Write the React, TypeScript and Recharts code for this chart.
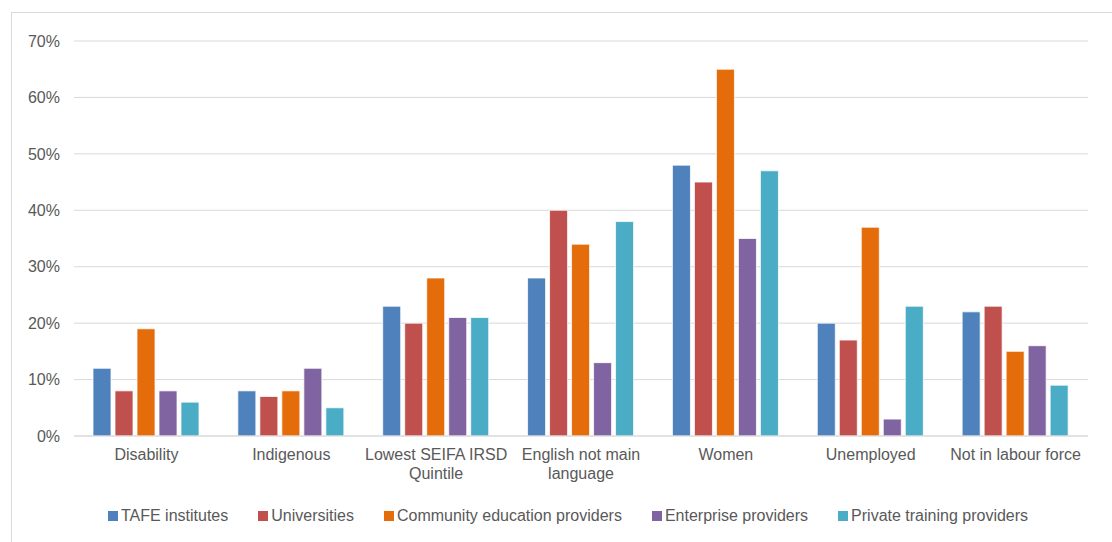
import React from 'react';
import { BarChart, Bar, XAxis, YAxis, CartesianGrid, Legend } from 'recharts';

const categories = [
  'Disability',
  'Indigenous',
  'Lowest SEIFA IRSD\nQuintile',
  'English not main\nlanguage',
  'Women',
  'Unemployed',
  'Not in labour force',
];

const tafe = [12, 8, 23, 28, 48, 20, 22];
const universities = [8, 7, 20, 40, 45, 17, 23];
const community = [19, 8, 28, 34, 65, 37, 15];
const enterprise = [8, 12, 21, 13, 35, 3, 16];
const privateTraining = [6, 5, 21, 38, 47, 23, 9];

const yTicks = [0, 10, 20, 30, 40, 50, 60, 70];

const series = [
  { key: 'tafe', name: 'TAFE institutes', color: '#4F81BD', values: tafe },
  { key: 'universities', name: 'Universities', color: '#C0504D', values: universities },
  { key: 'community', name: 'Community education providers', color: '#E46C0A', values: community },
  { key: 'enterprise', name: 'Enterprise providers', color: '#8064A2', values: enterprise },
  { key: 'private', name: 'Private training providers', color: '#4BACC6', values: privateTraining },
];

const data = categories.map((category, i) => {
  const row: Record<string, string | number> = { category };
  series.forEach((s) => {
    row[s.key] = s.values[i];
  });
  return row;
});

const FONT = '"Liberation Sans", Arial, sans-serif';
const TEXT = '#595959';

const CategoryTick = (props: any) => {
  const { x, y, payload } = props;
  const lines = String(payload.value).split('\n');
  return (
    <text x={x} y={y + 16} textAnchor="middle" fill={TEXT} fontSize={16} fontFamily={FONT}>
      {lines.map((line, i) => (
        <tspan key={i} x={x} dy={i === 0 ? 0 : 18.5}>
          {line}
        </tspan>
      ))}
    </text>
  );
};

const LegendContent = () => (
  <div
    style={{
      display: 'flex',
      justifyContent: 'center',
      gap: 30,
      fontFamily: FONT,
      fontSize: 16,
      color: TEXT,
    }}
  >
    {series.map((s) => (
      <div key={s.key} style={{ display: 'flex', alignItems: 'center' }}>
        <span style={{ width: 10, height: 10, background: s.color, marginRight: 3, display: 'inline-block' }} />
        <span>{s.name}</span>
      </div>
    ))}
  </div>
);

export default function App() {
  return (
    <div style={{ position: 'absolute', left: 0, top: 0, width: 1112, height: 542, background: '#fff', overflow: 'hidden' }}>
      <div
        style={{
          position: 'absolute',
          left: 11,
          top: 12,
          width: 1110,
          height: 540,
          border: '1px solid #d9d9d9',
        }}
      />
      <BarChart
        width={1112}
        height={542}
        data={data}
        margin={{ top: 41, right: 24, left: 14, bottom: 0 }}
        barSize={18}
        barGap={4}
      >
        <CartesianGrid vertical={false} stroke="#d9d9d9" />
        <XAxis
          dataKey="category"
          height={106}
          tickLine={false}
          axisLine={{ stroke: '#d9d9d9' }}
          interval={0}
          tick={<CategoryTick />}
        />
        <YAxis
          width={60}
          domain={[0, 70]}
          ticks={yTicks}
          tickFormatter={(v) => `${v}%`}
          tickLine={false}
          axisLine={false}
          tickMargin={8}
          tick={{ fill: TEXT, fontSize: 16, fontFamily: FONT }}
        />
        <Legend
          verticalAlign="middle"
          align="center"
          layout="horizontal"
          content={<LegendContent />}
          wrapperStyle={{ top: 507, left: 12, width: 1112 }}
        />
        {series.map((s) => (
          <Bar
            key={s.key}
            dataKey={s.key}
            name={s.name}
            fill={s.color}
            stroke="#ffffff"
            strokeWidth={0.75}
            isAnimationActive={false}
          />
        ))}
      </BarChart>
    </div>
  );
}
